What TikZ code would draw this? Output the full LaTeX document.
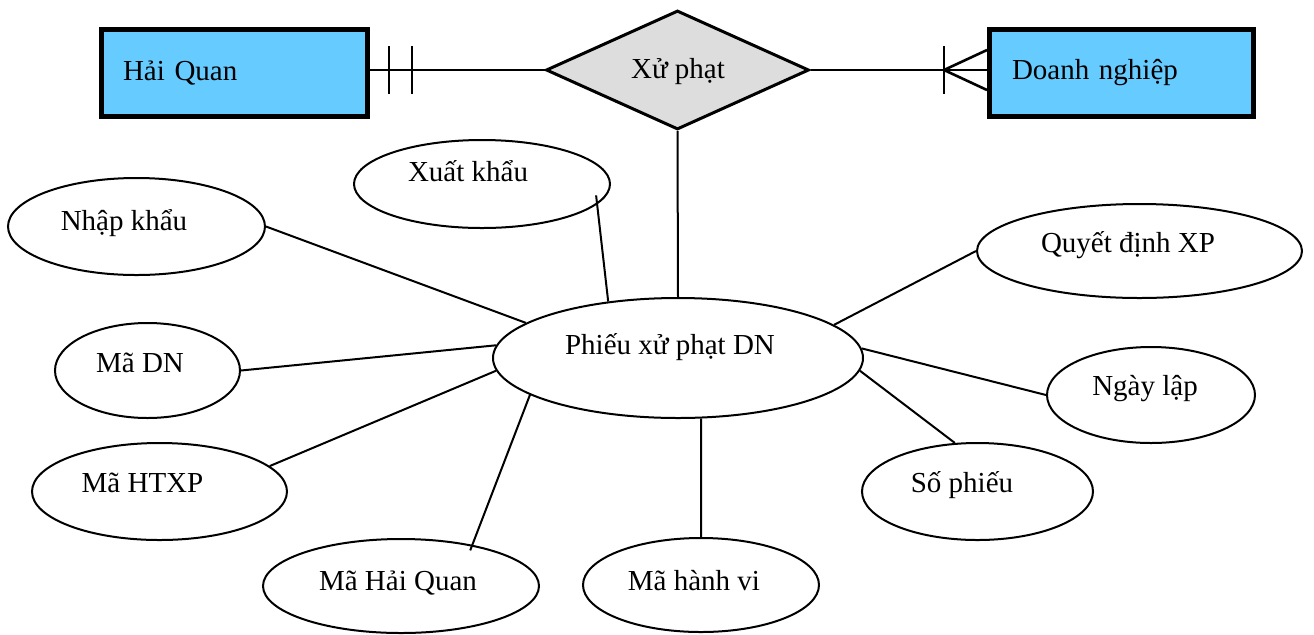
\documentclass[tikz,border=0pt]{standalone}
\usepackage{fontspec}
\setmainfont{Liberation Serif}
\usetikzlibrary{shapes.geometric}
\definecolor{entblue}{HTML}{66CCFF}
\definecolor{relgray}{HTML}{DDDDDD}
\begin{document}
\begin{tikzpicture}[x=0.5pt,y=-0.5pt,
  every node/.style={font=\fontsize{14.5}{17}\selectfont},
  entity/.style={rectangle, draw=black, line width=2.5pt, fill=entblue, inner ysep=0pt, align=left},
  rel/.style={diamond, draw=black, line width=1.5pt, fill=relgray, inner sep=0pt},
  attr/.style={ellipse, draw=black, line width=1pt, inner sep=0pt},
  txt/.style={anchor=base, inner sep=0pt},
  conn/.style={line width=1pt},
  topconn/.style={line width=1.3pt}]
\useasboundingbox (0,0) rectangle (1314,634);

% entities and relationship
\node[entity, minimum width=133pt, minimum height=43.5pt, text width=111.5pt, inner xsep=10.75pt] (hq) at (234.5,73) {Hải Quan};
\node[entity, minimum width=132pt, minimum height=43.5pt, text width=109.5pt, inner xsep=11.25pt] (dn) at (1121.5,73) {Doanh nghiệp};
\node[rel, minimum width=131.5pt, minimum height=59.5pt] (xp) at (677.5,70) {};
\node[txt] (xp-t) at (678,78) {Xử phạt};

% attribute ellipses
\node[attr, minimum width=185pt, minimum height=60pt] (main) at (678,358) {};
\node[txt] (main-t) at (670,354) {Phiếu xử phạt DN};
\node[attr, minimum width=128pt, minimum height=44pt] (xuat) at (482,184) {};
\node[txt] (xuat-t) at (468,181) {Xuất khẩu};
\node[attr, minimum width=128.5pt, minimum height=48.5pt] (nhap) at (136.5,226.5) {};
\node[txt] (nhap-t) at (124,230) {Nhập khẩu};
\node[attr, minimum width=162.5pt, minimum height=47pt] (quyet) at (1139.5,251) {};
\node[txt] (quyet-t) at (1128,252) {Quyết định XP};
\node[attr, minimum width=92.5pt, minimum height=47.5pt] (mdn) at (147.5,370.5) {};
\node[txt] (mdn-t) at (140,372) {Mã DN};
\node[attr, minimum width=104pt, minimum height=48pt] (ngay) at (1151,395) {};
\node[txt] (ngay-t) at (1145,395) {Ngày lập};
\node[attr, minimum width=127.5pt, minimum height=48.5pt] (htxp) at (159.5,491.5) {};
\node[txt] (htxp-t) at (142.5,492) {Mã HTXP};
\node[attr, minimum width=115.5pt, minimum height=48.5pt] (sop) at (977.5,491.5) {};
\node[txt] (sop-t) at (962,492) {Số phiếu};
\node[attr, minimum width=138pt, minimum height=47pt] (mhq) at (401,586) {};
\node[txt] (mhq-t) at (398,590) {Mã Hải Quan};
\node[attr, minimum width=118pt, minimum height=47pt] (mhv) at (701,585) {};
\node[txt] (mhv-t) at (694,590) {Mã hành vi};

% relationship connectors with cardinality marks
\coordinate (hqj) at (xp.west -| hq.east);
\draw[topconn] (xp.west) -- (hqj);
\draw[topconn] ([xshift=9.5pt,yshift=12pt]hqj) -- ([xshift=9.5pt,yshift=-12pt]hqj);
\draw[topconn] ([xshift=21pt,yshift=12pt]hqj) -- ([xshift=21pt,yshift=-12pt]hqj);
\coordinate (dnj) at (xp.east -| dn.west);
\draw[topconn] (xp.east) -- (dnj);
\coordinate (foot) at ([xshift=-21.5pt]dnj);
\draw[topconn] ([yshift=12pt]foot) -- ([yshift=-12pt]foot);
\draw[topconn] ([yshift=10pt]dnj) -- (foot) -- ([yshift=-10pt]dnj);

% attribute connectors
\draw[conn] (xp.south) -- (main.north);
\draw[conn] (nhap.east) -- (main.167.7);
\draw[conn, shorten <=-4.5pt] (xuat.-10.4) -- (main.141.3);
\draw[conn] (quyet.west) -- (main.12.5);
\draw[conn] (mdn.east) -- (main.176.6);
\draw[conn] (ngay.west) -- (main.3.4);
\draw[conn] (htxp.13.3) -- (main.184);
\draw[conn] (sop.115) -- (main.-4.4);
\draw[conn, shorten <=-3pt] (mhq.30) -- (main.194.9);
\draw[conn] (mhv.north) -- (main.-69);
\end{tikzpicture}
\end{document}
